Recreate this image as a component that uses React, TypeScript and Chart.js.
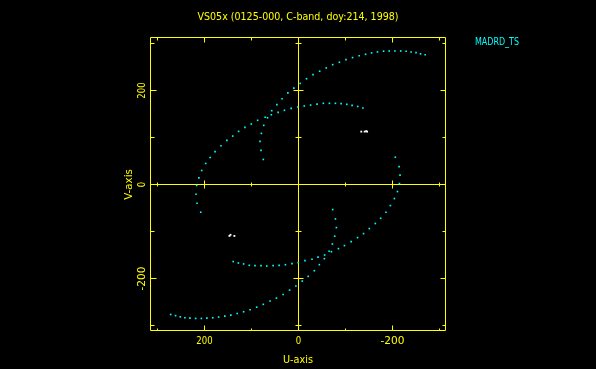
import React, { useEffect, useRef } from "react";
import { Chart, registerables } from "chart.js";

Chart.register(...registerables);

// ---- text ----
const TITLE = "VS05x (0125-000, C-band, doy:214, 1998)";
const X_TITLE = "U-axis";
const Y_TITLE = "V-axis";
const BASELINE_NAME = "MADRD_TS";

// ---- axes ----
const U_MIN = -313.8;
const U_MAX = 316.0;
const V_MIN = -311.7;
const V_MAX = 313.8;
const MAJOR_TICKS = [-200, 0, 200];
const MINOR_TICKS = [-300, -100, 100, 300];
const TICK_LABELS = ["-200", "0", "200"];

// ---- uv track (cyan) ----
const outerUpperU = [-269.5, -259.6, -250, -239.6, -229, -217.5, -205, -193, -181, -168, -155.5, -142.7, -129, -115, -101, -87, -72.7, -59, -45, -30.8, -17, -3.6, 10, 22.7, 35, 46, 57, 71, 87, 100.5, 114, 127.5, 140, 152.5, 165, 177.5, 188, 197.5, 206, 212, 216.7, 218, 216, 208];
const outerUpperV = [276, 278, 280.6, 282, 283.6, 284, 284, 284, 283.6, 282, 280, 277, 274, 270, 265.7, 260, 255, 248, 241, 233.7, 225, 215, 205, 195, 182.5, 170, 157, 143, 136.5, 128.6, 121.5, 113, 103, 93.8, 82.3, 70, 57.5, 44.7, 29.8, 14, -2, -20.7, -40, -59];

const outerLowerU = [272, 261.6, 251.6, 241.7, 231, 218.8, 206.7, 195, 182.5, 170, 156.8, 144, 130.5, 116.8, 103, 89, 74.9, 60.5, 47, 32.7, 19, 5.6, -8, -20.7, -33.6, -44.3, -55, -70, -85, -97.7, -112, -125.6, -138.4, -150.6, -163.4, -174.8, -186, -195.5, -204, -210.5, -214.7, -216, -214, -206];
const outerLowerV = [-276.6, -279, -281.5, -283.6, -284.4, -285, -285, -284.4, -283.6, -282, -280, -278, -274.4, -270.8, -266.5, -261, -255, -248, -241.8, -234, -224.7, -216, -205.5, -195.5, -183.4, -170.6, -157.8, -143, -136.5, -130, -121.5, -113, -104.5, -93.8, -83, -71.9, -59, -44.8, -29.9, -15, 2, 19.8, 38, 58];

const innerUpperU = [-137, -126, -114, -102.7, -90.7, -78.5, -65.7, -52.8, -39.4, -25.7, -12.2, 1.4, 15.6, 30, 43.4, 57.8, 66, 74, 79, 82, 79.8, 74.9];
const innerUpperV = [162.7, 166, 168.4, 170.6, 172, 172.7, 172.7, 172.7, 171, 169, 167, 164.8, 162, 157.8, 153.5, 148.4, 142, 125.8, 108.7, 91.7, 72.5, 53.3];

const innerLowerU = [139, 128, 116.8, 104.8, 92.6, 79.8, 67.6, 54, 41.3, 27.8, 14, 0.6, -13.7, -28.7, -41.5, -55.6, -65, -72, -77, -80.6, -78.5, -72.7];
const innerLowerV = [-164, -167, -169, -172, -172.7, -172.7, -173.5, -172.7, -172, -170.6, -168.4, -166.3, -162, -159, -154.4, -150, -142, -126.6, -110, -91.7, -73.3, -53.3];

// ---- small white clusters ----
const whiteU = [-133.5, -140.7, -143.9, -146, 147, 144.7, 136.5];
const whiteV = [112.5, 112.5, 113.5, 112.5, -109.4, -107, -109.4];

const YELLOW = "#ffff00";
const CYAN = "#00ffff";
const WHITE = "#ffffff";
const FONT = "10px 'DejaVu Sans'";

function zip(us: number[], vs: number[]) {
  return us.map((u, i) => ({ x: u, y: vs[i] }));
}

function fitText(
  ctx: CanvasRenderingContext2D,
  text: string,
  x: number,
  y: number,
  width: number,
  align: "center" | "left",
  rotate: boolean,
  color: string
) {
  ctx.save();
  ctx.font = FONT;
  ctx.fillStyle = color;
  ctx.textBaseline = "alphabetic";
  const m = ctx.measureText(text).width || 1;
  ctx.translate(x, y);
  if (rotate) ctx.rotate(-Math.PI / 2);
  ctx.scale(width / m, 1);
  ctx.textAlign = align;
  ctx.fillText(text, 0, 0);
  ctx.restore();
}

const snap = (p: number) => Math.floor(p) + 0.5;

const pgFrame = {
  id: "pgFrame",
  beforeDatasetsDraw(chart: any) {
    const { ctx, chartArea: a, scales } = chart;
    const xs = scales.x;
    const ys = scales.y;
    const L = a.left + 0.5;
    const R = a.right - 0.5;
    const T = a.top + 0.5;
    const B = a.bottom - 0.5;
    const x0 = snap(xs.getPixelForValue(0));
    const y0 = snap(ys.getPixelForValue(0));
    ctx.save();
    ctx.strokeStyle = YELLOW;
    ctx.lineWidth = 1;
    ctx.beginPath();
    ctx.rect(L, T, R - L, B - T);
    ctx.moveTo(x0, T);
    ctx.lineTo(x0, B);
    ctx.moveTo(L, y0);
    ctx.lineTo(R, y0);
    const all = [
      ...MAJOR_TICKS.map((v) => ({ v, major: true })),
      ...MINOR_TICKS.map((v) => ({ v, major: false })),
    ];
    for (const t of all) {
      const px = snap(xs.getPixelForValue(t.v));
      const py = snap(ys.getPixelForValue(t.v));
      ctx.moveTo(px, T);
      ctx.lineTo(px, T + (t.major ? 5 : 3));
      ctx.moveTo(px, B);
      ctx.lineTo(px, B - (t.major ? 5 : 2));
      ctx.moveTo(L, py);
      ctx.lineTo(L + (t.major ? 6 : 4), py);
      ctx.moveTo(R, py);
      ctx.lineTo(R - (t.major ? 5 : 3), py);
      if (t.v !== 0) {
        const hx = t.major ? 4 : 2;
        ctx.moveTo(px, y0 - hx);
        ctx.lineTo(px, y0 + hx);
        const hy = t.major ? 5 : 3;
        ctx.moveTo(x0 - hy, py);
        ctx.lineTo(x0 + hy, py);
      }
    }
    ctx.stroke();
    ctx.restore();
  },
  afterDraw(chart: any) {
    const { ctx, chartArea: a, scales } = chart;
    const xs = scales.x;
    const ys = scales.y;
    const cx = (a.left + a.right) / 2;
    const cy = (a.top + a.bottom) / 2;
    fitText(ctx, TITLE, cx, 20, 201, "center", false, YELLOW);
    MAJOR_TICKS.forEach((v, i) => {
      const lab = TICK_LABELS[i];
      const w = lab.startsWith("-") ? 24 : lab.length * 5.43;
      fitText(ctx, lab, xs.getPixelForValue(v), a.bottom + 12.5, w, "center", false, YELLOW);
      fitText(ctx, lab, a.left - 5, ys.getPixelForValue(v), w, "center", true, YELLOW);
    });
    fitText(ctx, X_TITLE, cx, a.bottom + 31.5, 30, "center", false, YELLOW);
    fitText(ctx, Y_TITLE, a.left - 17.7, cy + 0.5, 30.7, "center", true, YELLOW);
    fitText(ctx, BASELINE_NAME, a.right + 29, a.top + 8, 44, "left", false, CYAN);
  },
};

export default function App() {
  const ref = useRef<HTMLCanvasElement | null>(null);
  useEffect(() => {
    document.body.style.margin = "0";
    document.body.style.background = "#000";
    const canvas = ref.current;
    if (!canvas) return;
    const cyanPts = [
      ...zip(outerUpperU, outerUpperV),
      ...zip(outerLowerU, outerLowerV),
      ...zip(innerUpperU, innerUpperV),
      ...zip(innerLowerU, innerLowerV),
    ];
    const chart = new Chart(canvas, {
      type: "scatter",
      data: {
        datasets: [
          {
            label: BASELINE_NAME,
            data: cyanPts,
            pointStyle: "rect",
            pointRadius: 1.15,
            pointBorderWidth: 0,
            backgroundColor: CYAN,
            borderColor: CYAN,
          },
          {
            label: "flag",
            data: zip(whiteU, whiteV),
            pointStyle: "rect",
            pointRadius: 1.3,
            pointBorderWidth: 0,
            backgroundColor: WHITE,
            borderColor: WHITE,
          },
        ],
      },
      options: {
        animation: false,
        responsive: false,
        maintainAspectRatio: false,
        devicePixelRatio: 1,
        layout: { padding: { left: 150, right: 150, top: 37, bottom: 38 } },
        plugins: {
          legend: { display: false },
          tooltip: { enabled: false },
          title: { display: false },
        },
        events: [],
        scales: {
          x: { type: "linear", display: false, reverse: true, min: U_MIN, max: U_MAX },
          y: { type: "linear", display: false, min: V_MIN, max: V_MAX },
        },
      },
      plugins: [pgFrame],
    });
    return () => chart.destroy();
  }, []);
  return (
    <div style={{ position: "fixed", left: 0, top: 0, width: 596, height: 369, background: "#000" }}>
      <canvas ref={ref} width={596} height={369} style={{ display: "block", width: 596, height: 369 }} />
    </div>
  );
}
